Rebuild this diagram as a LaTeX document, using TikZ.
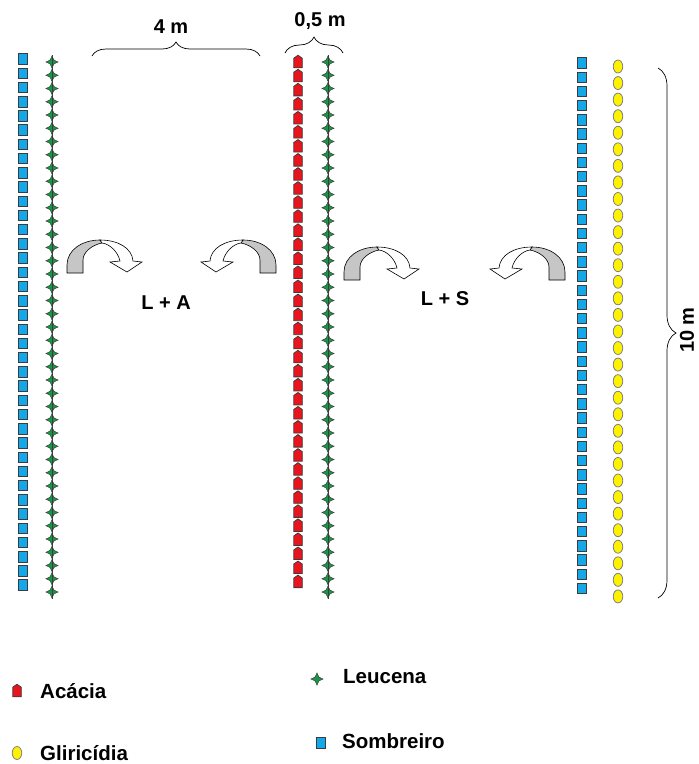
\documentclass[tikz,border=0pt]{standalone}
\usepackage{fontspec}
\setmainfont{Liberation Sans}
\usepackage{xcolor}
\usepackage{tikz}
\usetikzlibrary{shapes.geometric}
\usetikzlibrary{shapes.symbols}
\usetikzlibrary{decorations.pathreplacing}
\definecolor{sombcolor}{RGB}{20,168,232}
\definecolor{acaccolor}{RGB}{232,20,30}
\definecolor{leuccolor}{RGB}{25,150,70}
\definecolor{glircolor}{RGB}{255,242,0}
\definecolor{edgecolor}{RGB}{60,60,60}
\tikzset{
    plant/.style = {inner sep=0pt, draw=edgecolor, line width=0.8pt},
    sombreiro_node/.style = {plant, rectangle, fill=sombcolor, minimum width=9pt, minimum height=10.5pt},
    acacia_node/.style = {plant, signal, signal to=north, signal pointer angle=110, fill=acaccolor, minimum width=8.5pt, minimum height=9.5pt},
    leucena_node/.style = {plant, star, star points=4, star point ratio=2.2, fill=leuccolor, minimum size=12pt, line width=0.5pt},
    gliricidia_node/.style = {plant, ellipse, fill=glircolor, draw=gray, minimum width=9.5pt, minimum height=13pt},
    stem/.style = {draw=edgecolor, line width=0.9pt},
    label_text/.style = {inner sep=0pt, font=\bfseries\fontsize{20}{24}\selectfont},
    legend_text/.style = {inner sep=0pt, anchor=base west, font=\bfseries\fontsize{20.5}{24}\selectfont},
    dimbrace/.style = {decorate, decoration={brace, amplitude=#1}, draw=black, line width=0.7pt}
}
\tikzset{
    turn_arrow/.pic = {
        \begin{scope}[xscale=#1, line width=0.6pt]
            \draw[fill=gray!45] (-33,33) -- (-33,25) .. controls (-33,10) and (-18,0) .. (0,0)
                -- (2,3) .. controls (-8,5) and (-17,12) .. (-17,20) -- (-17,33) -- cycle;
            \draw[fill=white] (0,0) .. controls (18,0) and (32,8) .. (33,21) -- (42,22) -- (27,32)
                -- (10,22) -- (20,21) .. controls (18,12) and (10,4) .. (2,3) -- cycle;
        \end{scope}
    }
}

\begin{document}
\begin{tikzpicture}
            [x=1pt, y=-1pt]

            \useasboundingbox (0,0) rectangle (699,764);

            % rows
            \foreach \i in {0,...,37} {
                \node [sombreiro_node] (sl\i) at (22.5, {59+14.22*\i}) {};
                \node [acacia_node] (ac\i) at (298, {63+14.05*\i}) {};
                \node [sombreiro_node] (sr\i) at (581.5, {63+14.2*\i}) {};
            }
            \foreach \i in {0,...,40} {
                \node [leucena_node] (ll\i) at (52, {62+13.25*\i}) {};
                \node [leucena_node] (lr\i) at (328, {62+13.25*\i}) {};
            }
            \foreach \i in {0,...,32} {
                \node [gliricidia_node] (gl\i) at (618, {66.5+16.56*\i}) {};
            }
            \draw [stem] (ll0.north) -- (ll40.south);
            \draw [stem] (lr0.north) -- (lr40.south);

            % spacing
            \coordinate (b4l) at (92,56);
            \coordinate (b4r) at (260,56);
            \coordinate (b05l) at (285,53);
            \coordinate (b05r) at (343,53);
            \coordinate (b10t) at (658,68);
            \coordinate (b10b) at (658,598);
            \draw [dimbrace=14] (b4l) -- (b4r);
            \draw [dimbrace=16] (b05l) -- (b05r);
            \draw [dimbrace=18] (b10t) -- (b10b);
            \node [label_text, anchor=base] (lbl4) at (171,33) {4 m};
            \node [label_text, anchor=base] (lbl05) at (320,26) {0,5 m};
            \node [label_text, rotate=90] (lbl10) at (687,330) {10 m};

            % exchanges
            \pic at (100,240) {turn_arrow=1};
            \pic at (243,240) {turn_arrow=-1};
            \pic at (377,247) {turn_arrow=1};
            \pic at (532,247) {turn_arrow=-1};
            \node [label_text, anchor=base] (la) at (166,309) {L + A};
            \node [label_text, anchor=base] (ls) at (445,305) {L + S};

            % legend
            \node [acacia_node] (key_ac) at (17,692) {};
            \node [legend_text] (txt_ac) at (40,698) {Acácia};
            \node [gliricidia_node] (key_gl) at (17,753) {};
            \node [legend_text] (txt_gl) at (40,760) {Gliricídia};
            \node [leucena_node] (key_le) at (317,679) {};
            \node [legend_text] (txt_le) at (343,683) {Leucena};
            \node [sombreiro_node] (key_so) at (321,743) {};
            \node [legend_text] (txt_so) at (342,748) {Sombreiro};
\end{tikzpicture}
\end{document}
